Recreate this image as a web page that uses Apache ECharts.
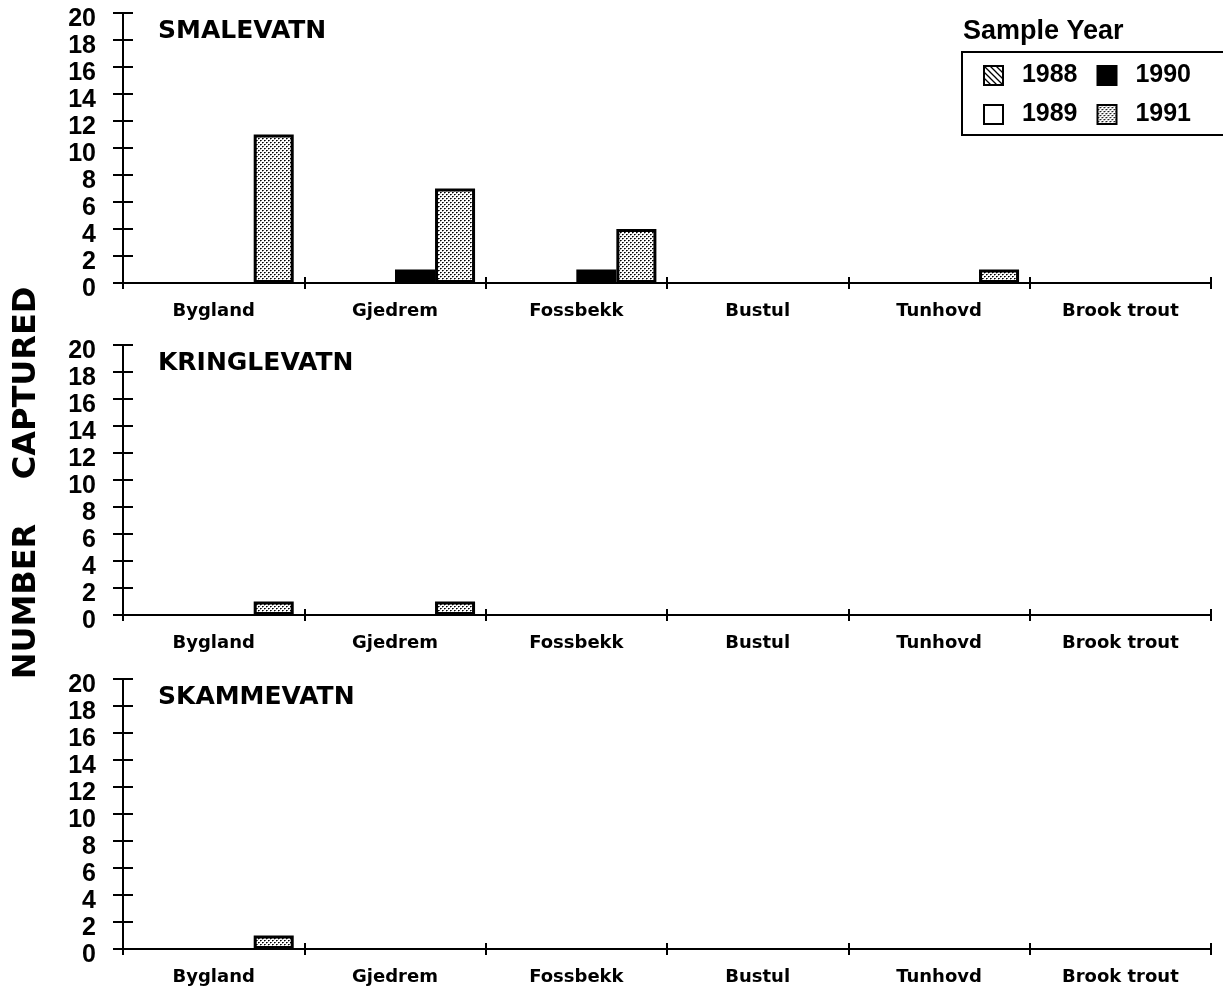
<!DOCTYPE html>
<html>
<head>
<meta charset="utf-8">
<script src="https://cdn.jsdelivr.net/npm/echarts@6/dist/echarts.min.js"></script>
<style>
  html, body { margin: 0; padding: 0; background: #fff; }
  #chart { width: 1223px; height: 988px; }
</style>
</head>
<body>
<div id="chart"></div>
<script>
// Strains sampled and sample years
const sites = ['Bygland', 'Gjedrem', 'Fossbekk', 'Bustul', 'Tunhovd', 'Brook trout'];
const years = ['1988', '1989', '1990', '1991'];
const lakes = ['SMALEVATN', 'KRINGLEVATN', 'SKAMMEVATN'];
const yMin = 0, yMax = 20, yStep = 2;

// Number captured, per lake and sample year, in strain order
const smalevatn1988 = [0, 0, 0, 0, 0, 0];
const smalevatn1989 = [0, 0, 0, 0, 0, 0];
const smalevatn1990 = [0, 1, 1, 0, 0, 0];
const smalevatn1991 = [11, 7, 4, 0, 1, 0];

const kringlevatn1988 = [0, 0, 0, 0, 0, 0];
const kringlevatn1989 = [0, 0, 0, 0, 0, 0];
const kringlevatn1990 = [0, 0, 0, 0, 0, 0];
const kringlevatn1991 = [1, 1, 0, 0, 0, 0];

const skammevatn1988 = [0, 0, 0, 0, 0, 0];
const skammevatn1989 = [0, 0, 0, 0, 0, 0];
const skammevatn1990 = [0, 0, 0, 0, 0, 0];
const skammevatn1991 = [1, 0, 0, 0, 0, 0];

const lakeData = [
  [smalevatn1988, smalevatn1989, smalevatn1990, smalevatn1991],
  [kringlevatn1988, kringlevatn1989, kringlevatn1990, kringlevatn1991],
  [skammevatn1988, skammevatn1989, skammevatn1990, skammevatn1991]
];

// Fill patterns
function hatchPattern() {
  const c = document.createElement('canvas');
  c.width = c.height = 6;
  const g = c.getContext('2d');
  g.fillStyle = '#fff';
  g.fillRect(0, 0, 6, 6);
  g.strokeStyle = '#000';
  g.lineWidth = 1.3;
  g.beginPath();
  g.moveTo(-1, -1); g.lineTo(7, 7);
  g.moveTo(-4, 2); g.lineTo(4, 10);
  g.moveTo(2, -4); g.lineTo(10, 4);
  g.stroke();
  return c;
}
function dotPattern() {
  const c = document.createElement('canvas');
  c.width = c.height = 4;
  const g = c.getContext('2d');
  g.fillStyle = '#fff';
  g.fillRect(0, 0, 4, 4);
  g.fillStyle = '#000';
  g.fillRect(0, 0, 1, 1);
  g.fillRect(2, 2, 1, 1);
  g.fillStyle = '#555';
  g.fillRect(1, 0, 1, 1);
  g.fillRect(3, 2, 1, 1);
  g.fillStyle = '#aaa';
  g.fillRect(0, 1, 1, 1);
  g.fillRect(2, 3, 1, 1);
  return c;
}
const fills = [
  { image: hatchPattern(), repeat: 'repeat' },
  '#ffffff',
  '#000000',
  { image: dotPattern(), repeat: 'repeat' }
];

const gridTops = [13, 345, 679];
const gridHeight = 270;
const bold = { fontWeight: 'bold', color: '#000' };

const grid = gridTops.map(t => ({ left: 123, right: 12, top: t, height: gridHeight }));

const xAxis = [];
const yAxis = [];
gridTops.forEach((t, i) => {
  xAxis.push({
    type: 'category', gridIndex: i, data: sites, position: 'bottom',
    axisLine: { show: true, lineStyle: { color: '#000', width: 2 } },
    axisTick: { show: true, inside: false, length: 6, lineStyle: { color: '#000', width: 2 } },
    axisLabel: Object.assign({ fontFamily: 'DejaVu Sans', fontSize: 18, margin: 19 }, bold),
    splitLine: { show: false }
  });
  xAxis.push({
    type: 'category', gridIndex: i, data: sites, position: 'bottom',
    axisLine: { show: false },
    axisTick: { show: true, inside: true, length: 6, lineStyle: { color: '#000', width: 2 } },
    axisLabel: { show: false },
    splitLine: { show: false }
  });
  yAxis.push({
    type: 'value', gridIndex: i, min: yMin, max: yMax, interval: yStep, position: 'left',
    axisLine: { show: true, lineStyle: { color: '#000', width: 2 } },
    axisTick: { show: true, inside: false, length: 10, lineStyle: { color: '#000', width: 2 } },
    axisLabel: Object.assign({
      fontFamily: 'Liberation Sans', fontSize: 25, margin: 27,
      verticalAlign: 'top', lineHeight: 13
    }, bold),
    splitLine: { show: false }
  });
  yAxis.push({
    type: 'value', gridIndex: i, min: yMin, max: yMax, interval: yStep, position: 'left',
    axisLine: { show: false },
    axisTick: { show: true, inside: true, length: 10, lineStyle: { color: '#000', width: 2 } },
    axisLabel: { show: false },
    splitLine: { show: false }
  });
});

// Empty counts get no outline so the baseline stays a single clean line
function toBarData(vals) {
  return vals.map(v => (v === 0 ? { value: v, itemStyle: { borderWidth: 0 } } : v));
}

const series = [];
lakeData.forEach((rows, i) => {
  rows.forEach((vals, j) => {
    series.push({
      type: 'bar', name: years[j],
      xAxisIndex: 2 * i, yAxisIndex: 2 * i,
      data: toBarData(vals),
      barGap: '0%', barCategoryGap: '11.7%',
      itemStyle: { color: fills[j], borderColor: '#000', borderWidth: 3 },
      emphasis: { disabled: true }
    });
  });
});

const legendBase = {
  left: 983, orient: 'horizontal', padding: 0,
  itemWidth: 19, itemHeight: 19, itemGap: 19, icon: 'rect',
  selectedMode: false,
  formatter: '  {name}',
  itemStyle: { borderColor: '#000', borderWidth: 2 },
  textStyle: Object.assign({ fontFamily: 'Liberation Sans', fontSize: 25 }, bold)
};

const option = {
  animation: false,
  backgroundColor: '#fff',
  grid, xAxis, yAxis, series,
  title: lakes.map((name, i) => ({
    text: name, left: 158, top: gridTops[i] + 6, padding: 0,
    textStyle: Object.assign({ fontFamily: 'DejaVu Sans', fontSize: 25 }, bold)
  })),
  legend: [
    Object.assign({ top: 63, data: ['1988', '1990'] }, legendBase),
    Object.assign({ top: 102, data: ['1989', '1991'] }, legendBase)
  ],
  graphic: [
    {
      type: 'text', x: 963, y: 32,
      style: { text: 'Sample Year', font: 'bold 27px "Liberation Sans"', fill: '#000', verticalAlign: 'middle' }
    },
    {
      type: 'rect', shape: { x: 962, y: 52, width: 300, height: 83 },
      style: { fill: 'transparent', stroke: '#000', lineWidth: 2 }
    },
    {
      type: 'text', x: 27, y: 483, rotation: Math.PI / 2,
      style: { text: 'NUMBER    CAPTURED', font: 'bold 32px "DejaVu Sans"', fill: '#000', align: 'center', verticalAlign: 'middle' }
    }
  ]
};

const chart = echarts.init(document.getElementById('chart'), null, { renderer: 'canvas' });
chart.setOption(option);
</script>
</body>
</html>
